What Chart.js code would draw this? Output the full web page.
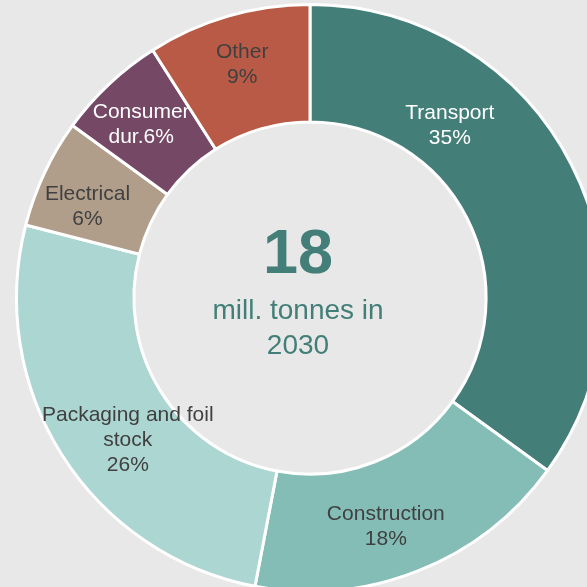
<!DOCTYPE html>
<html>
<head>
<meta charset="utf-8">
<script src="https://cdn.jsdelivr.net/npm/chart.js@4.4.1/dist/chart.umd.min.js"></script>
<style>
  html, body { margin: 0; padding: 0; background: #e8e8e8; overflow: hidden; }
  #wrap { position: absolute; left: 0; top: -12px; width: 620px; height: 620px; }
</style>
</head>
<body>
<div id="wrap"><canvas id="usageChart" width="620" height="620"></canvas></div>
<script>
// aluminium use by sector, share of total (%)
var sectors = ['Transport', 'Construction', 'Packaging and foil\nstock', 'Electrical', 'Consumer\ndur.', 'Other'];
var shares = [35, 18, 26, 6, 6, 9];
var sectorColours = ['#437f78', '#83bdb6', '#acd6d2', '#b09e8a', '#754866', '#b95a46'];
var labelColours = ['#ffffff', '#404040', '#404040', '#404040', '#ffffff', '#404040'];
var totalMillTonnes = 18;
var totalYear = 2030;

// where in each slice the label sits: fraction along the arc, fraction across the ring
var labelAnchor = [[0.31, 0.39], [0.55, 0.55], [0.44, 0.47], [0.37, 0.55], [0.45, 0.56], [0.5, 0.57]];

var sliceLabels = {
  id: 'sliceLabels',
  afterDatasetsDraw: function(chart) {
    var ctx = chart.ctx;
    var arcs = chart.getDatasetMeta(0).data;
    ctx.save();
    ctx.font = '21px "Liberation Sans", Arial, sans-serif';
    ctx.textAlign = 'center';
    ctx.textBaseline = 'middle';
    arcs.forEach(function(arc, i) {
      var p = arc.getProps(['x', 'y', 'startAngle', 'endAngle', 'innerRadius', 'outerRadius'], true);
      var a = p.startAngle + (p.endAngle - p.startAngle) * labelAnchor[i][0];
      var r = p.innerRadius + (p.outerRadius - p.innerRadius) * labelAnchor[i][1];
      var cx = p.x + Math.cos(a) * r;
      var cy = p.y + Math.sin(a) * r;
      var text = sectors[i];
      // "dur." keeps the share on the same line
      text = /\.$/.test(text) ? text + shares[i] + '%' : text + '\n' + shares[i] + '%';
      var lines = text.split('\n');
      var lh = 25;
      ctx.fillStyle = labelColours[i];
      lines.forEach(function(line, j) {
        ctx.fillText(line, cx, cy + (j - (lines.length - 1) / 2) * lh);
      });
    });
    ctx.restore();
  }
};

// total in the hole, set a little left of the ring's centre
var centreText = {
  id: 'centreText',
  afterDraw: function(chart) {
    var ctx = chart.ctx;
    var arc = chart.getDatasetMeta(0).data[0];
    var x = arc.x - 12, y = arc.y;
    ctx.save();
    ctx.fillStyle = '#437f78';
    ctx.textAlign = 'center';
    ctx.textBaseline = 'middle';
    ctx.font = 'bold 63px "Liberation Sans", Arial, sans-serif';
    ctx.fillText(String(totalMillTonnes), x, y - 42);
    ctx.font = '28px "Liberation Sans", Arial, sans-serif';
    ctx.fillText('mill. tonnes in', x, y + 13);
    ctx.fillText(String(totalYear), x, y + 48);
    ctx.restore();
  }
};

var ctx = document.getElementById('usageChart').getContext('2d');
var usageChart = new Chart(ctx, {
  type: 'doughnut',
  data: {
    labels: sectors,
    datasets: [{
      data: shares,
      backgroundColor: sectorColours,
      borderColor: '#ffffff',
      borderWidth: 3
    }]
  },
  options: {
    responsive: false,
    animation: false,
    cutout: '60%',
    layout: { padding: 15 },
    plugins: {
      legend: { display: false },
      tooltip: { enabled: false }
    }
  },
  plugins: [sliceLabels, centreText]
});
</script>
</body>
</html>
